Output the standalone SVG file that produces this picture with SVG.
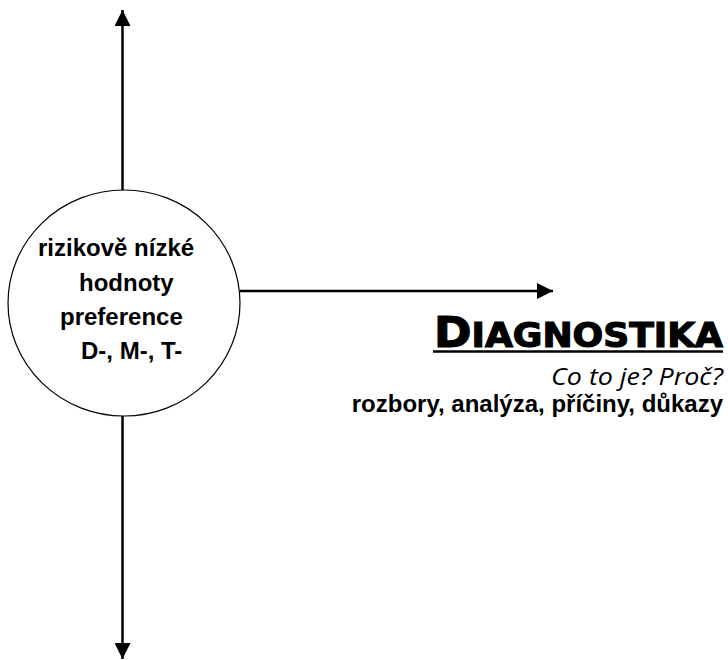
<svg xmlns="http://www.w3.org/2000/svg" width="728" height="660" viewBox="0 0 728 660">
  <style>
    .conn { stroke: #000; stroke-width: 2.5; fill: none; marker-end: url(#arrow); }
    .node-shape { fill: #fff; stroke: #000; stroke-width: 1.2; }
    .node-text { font-family: "Liberation Sans", Arial, sans-serif; font-weight: bold; font-size: 24px; fill: #000; }
    .title { font-family: "DejaVu Sans", "Liberation Sans", sans-serif; font-weight: bold; fill: #000; stroke: #000; stroke-width: 1.2; }
    .sub { font-family: "Open Sans", "Noto Sans", sans-serif; font-style: italic; font-size: 23px; fill: #000; }
    .desc { font-family: "Liberation Sans", Arial, sans-serif; font-weight: bold; font-size: 24px; fill: #000; }
  </style>
  <defs>
    <marker id="arrow" markerUnits="userSpaceOnUse" viewBox="0 0 16 16" refX="16" refY="8" markerWidth="16" markerHeight="16" orient="auto">
      <path d="M0,0 L16,8 L0,16 Z" fill="#000"/>
    </marker>
  </defs>
  <rect width="728" height="660" fill="#fff"/>

  <!-- axes from the central node -->
  <g id="connectors">
    <line class="conn" x1="122.5" y1="190" x2="122.5" y2="10"/>
    <line class="conn" x1="122.5" y1="416" x2="122.5" y2="659"/>
    <line class="conn" x1="240" y1="291" x2="553" y2="291"/>
  </g>

  <!-- central node -->
  <g id="node-center">
    <ellipse class="node-shape" cx="124" cy="303" rx="116" ry="113"/>
    <text class="node-text" x="38" y="256">rizikově nízké</text>
    <text class="node-text" x="79" y="291">hodnoty</text>
    <text class="node-text" x="60" y="325">preference</text>
    <text class="node-text" x="81" y="359">D-, M-, T-</text>
  </g>

  <!-- diagnostics label -->
  <g id="node-diagnostika">
    <text class="title" x="434" y="347" textLength="289" lengthAdjust="spacingAndGlyphs"><tspan font-size="42">D</tspan><tspan font-size="33.5">IAGNOSTIKA</tspan></text>
    <line x1="433" y1="351.5" x2="723" y2="351.5" stroke="#000" stroke-width="2.5"/>
    <text class="sub" x="551" y="385" textLength="172" lengthAdjust="spacingAndGlyphs">Co to je? Proč?</text>
    <text class="desc" x="723" y="412" text-anchor="end">rozbory, analýza, příčiny, důkazy</text>
  </g>
</svg>
